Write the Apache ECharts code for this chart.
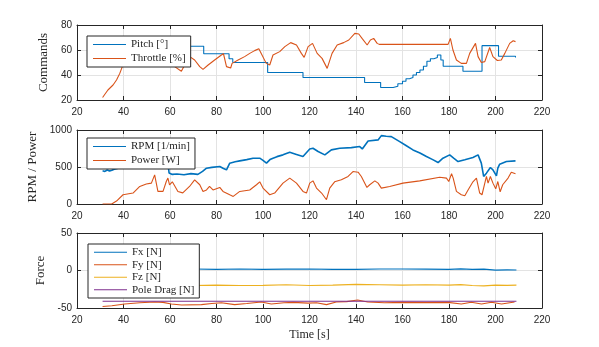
<!DOCTYPE html>
<html>
<head>
<meta charset="utf-8">
<script src="https://cdn.jsdelivr.net/npm/echarts@6/dist/echarts.min.js"></script>
<style>
  html, body { margin: 0; padding: 0; background: #fff; }
  #main { width: 599px; height: 347px; }
</style>
</head>
<body>
<div id="main"></div>
<script>
// x ticks (time, s)
const timeTicks = [20, 40, 60, 80, 100, 120, 140, 160, 180, 200, 220];

// panel 1 - commands
const pitchT = [31, 74.5, 85.4, 87, 102, 117.2, 143.7, 150.6, 156, 158, 160, 161.5, 163, 164.5, 166, 167.5, 169, 170.5, 172, 173.5, 175, 176.5, 177.5, 186, 194.2, 201.3, 208.6];
const pitchV = [63, 57, 53, 50, 42, 38, 34, 30, 31, 33, 35, 37, 38, 40, 42, 44, 47, 51, 53, 54, 56, 52, 47, 43, 63.5, 55, 54];
const throttleT = [31, 33.3, 35.5, 37, 38.4, 39.5, 41, 44.5, 47, 51, 55, 58, 60, 61, 62, 64.9, 66.3, 68.5, 70.6, 72.8, 74.2, 76.4, 79.2, 82.1, 83, 84.3, 86.1, 86.7, 89.3, 92.1, 94.3, 96.4, 98.2, 99.3, 101.4, 102.9, 104.3, 107.2, 109.4, 111.9, 114.4, 116.5, 117.7, 119.4, 121.3, 123.3, 125.4, 127.6, 129.7, 131.9, 134.7, 136.9, 139.5, 141.2, 142.6, 144.8, 146.2, 147.6, 149.1, 150, 179.6, 180.6, 181.7, 183.2, 185.3, 187.5, 188.9, 191.4, 192.5, 193.9, 195.4, 197.5, 198.9, 200.8, 202.5, 204, 206.1, 207.6, 208.6];
const throttleV = [22, 28, 32, 36, 41.3, 46.7, 48, 48, 52, 56, 58, 55, 52, 50, 46.7, 43, 48, 54.7, 52, 46.7, 44.5, 48, 52, 56, 57, 46.7, 45.6, 49.3, 52, 54.7, 57.3, 59.5, 61, 57, 49.3, 48, 56, 58.7, 62.7, 65.9, 64, 57.3, 54.1, 62.7, 65.3, 57.3, 53.3, 45.3, 57.3, 64, 65.9, 68, 73.3, 72.8, 69.3, 64, 68, 69.3, 65.3, 64.5, 64.5, 69.3, 60, 52, 49.3, 49.3, 57.3, 65.3, 54.7, 50, 50.7, 62, 54.7, 51.6, 52, 57.3, 65.3, 67.4, 66.7];

// panel 2 - rpm / power
const rpmT = [31, 32, 33, 34, 35, 36, 40, 45, 50, 55, 58.4, 59, 59.6, 61, 63, 66, 69, 72, 74, 75.7, 78, 81.4, 83, 84.3, 85.7, 88, 90, 93, 95.7, 98.6, 100, 101.5, 103, 104.3, 106, 108.6, 111.5, 114.4, 117.2, 120.1, 121.5, 123.7, 126.6, 129.4, 133, 138, 141.6, 142.7, 145.2, 149.5, 150.9, 153, 155.2, 158.8, 161.5, 164.5, 167.5, 170.3, 173, 175.3, 177.4, 180.3, 182, 183.9, 186.8, 190.3, 192.5, 193.9, 194.9, 196.1, 197.8, 198.9, 200.4, 201, 201.8, 204.7, 208.6];
const rpmV = [450, 440, 460, 445, 455, 470, 500, 510, 520, 530, 540, 580, 420, 400, 405, 395, 410, 400, 440, 484, 495, 507, 480, 462, 552, 570, 583, 600, 619, 619, 590, 552, 600, 619, 640, 664, 700, 670, 641, 744, 753, 709, 664, 731, 753, 762, 776, 744, 852, 866, 924, 915, 910, 843, 790, 731, 690, 641, 600, 560, 619, 664, 620, 574, 597, 628, 664, 552, 372, 417, 493, 462, 381, 484, 538, 574, 583];
const powerT = [31, 34.9, 37, 39.8, 44.1, 47, 49.8, 52, 53.4, 54, 54.8, 57, 58.4, 59.1, 59.8, 61, 63.4, 65.5, 68.4, 70.6, 71.3, 72.8, 74.2, 75.7, 77, 78.5, 81.4, 82.8, 85.7, 87.2, 90, 94.3, 97.2, 98.6, 100, 102.9, 105, 108.6, 111.5, 114.4, 117.2, 118.7, 120.1, 121.5, 123, 125.2, 127.3, 128.7, 130.8, 133.7, 136.6, 138.7, 140.9, 142.3, 144.7, 145.9, 148.1, 149.5, 150.9, 154.5, 160.2, 167.4, 176, 178.9, 179.9, 181.1, 181.8, 183.2, 185.3, 186.8, 188.2, 190.3, 191.8, 193.2, 194.2, 195.4, 196.1, 196.8, 197.8, 198.9, 200.1, 201, 202, 203.1, 205.4, 206.8, 208.6];
const powerV = [0, 0, 40, 125, 148, 237, 270, 282, 394, 410, 170, 170, 304, 350, 260, 300, 170, 150, 237, 327, 350, 260, 170, 190, 237, 190, 224, 170, 125, 103, 170, 190, 260, 300, 215, 125, 148, 282, 350, 282, 170, 148, 282, 313, 215, 148, 58, 215, 300, 327, 372, 439, 430, 372, 224, 260, 313, 282, 215, 237, 282, 313, 362, 350, 304, 410, 350, 170, 125, 112, 190, 300, 350, 148, 125, 282, 372, 282, 372, 282, 205, 304, 165, 260, 350, 430, 410];

// panel 3 - forces
const forceT = [31, 50, 70, 80, 90, 100, 110, 120, 130, 140, 150, 160, 170, 180, 185, 190, 195, 200, 205, 209];
const fxV = [2, 2, 2, 1.5, 2, 1.5, 1.8, 2, 1.5, 1.5, 2, 2, 1.8, 1.5, 2.2, 1.5, 1.8, 0.5, 0.8, 0.6];
const fzV = [-20, -19.5, -20, -19.5, -20, -19.8, -19, -20, -19.5, -18.5, -19, -19.5, -19, -19.5, -18.8, -20, -20.5, -19.5, -19.8, -19.5];
const fyT = [31, 35, 40.5, 47, 53.4, 57, 60.6, 65, 73.5, 78, 82.1, 87.8, 93, 99.3, 103.6, 109, 113, 119.4, 123, 127.3, 131.5, 136, 140.7, 145, 152.2, 160, 170, 179.6, 185.3, 189.6, 194, 198.3, 202.6, 208.2];
const fyV = [-48, -47, -44.7, -43, -42, -42.5, -44.7, -46, -45.5, -44, -43, -45.5, -44, -42, -44.7, -43, -42.5, -43.5, -43, -45.5, -42, -41.5, -39.3, -42, -43, -42.5, -42.8, -42.5, -44.7, -42.3, -44.7, -42.3, -44.7, -42];
const dragT = [31, 209];
const dragV = [-41, -41];

const C1 = '#0072BD', C2 = '#D95319', C3 = '#EDB120', C4 = '#7E2F8E';
const ink = '#262626';
const serif = 'Liberation Serif';
const sans = 'Liberation Sans';

function pair(T, V) {
    return T.map(function (t, i) { return [t, V[i]]; });
}

const grids = [
    { left: 77, top: 25, width: 465, height: 75 },
    { left: 77, top: 130, width: 465, height: 74 },
    { left: 77, top: 233, width: 465, height: 75 }
];
const yRanges = [
    { min: 20, max: 80, interval: 20, name: 'Commands', gap: 16 },
    { min: 0, max: 1000, interval: 500, name: 'RPM / Power', gap: 28 },
    { min: -50, max: 50, interval: 50, name: 'Force', gap: 22 }
];

var xAxes = [], yAxes = [];
grids.forEach(function (g, i) {
    xAxes.push({
        type: 'value', gridIndex: i, min: timeTicks[0], max: timeTicks[timeTicks.length - 1], interval: 20,
        axisLine: { show: true, onZero: false, lineStyle: { color: ink, width: 1 } },
        axisTick: { show: true, inside: true, length: 4, lineStyle: { color: ink } },
        axisLabel: { color: ink, fontFamily: sans, fontSize: 10, margin: 7 },
        splitLine: { show: true, lineStyle: { color: '#e3e3e3', width: 1 } },
        name: i === 2 ? 'Time [s]' : '',
        nameLocation: 'middle', nameGap: 21,
        nameTextStyle: { color: ink, fontFamily: serif, fontSize: 12 }
    });
    xAxes.push({
        type: 'value', gridIndex: i, position: 'top', min: 20, max: 220, interval: 20,
        axisLine: { show: true, onZero: false, lineStyle: { color: ink, width: 1 } },
        axisTick: { show: true, inside: true, length: 4, lineStyle: { color: ink } },
        axisLabel: { show: false }, splitLine: { show: false }
    });
    var r = yRanges[i];
    yAxes.push({
        type: 'value', gridIndex: i, min: r.min, max: r.max, interval: r.interval,
        axisLine: { show: true, onZero: false, lineStyle: { color: ink, width: 1 } },
        axisTick: { show: true, inside: true, length: 4, lineStyle: { color: ink } },
        axisLabel: { color: ink, fontFamily: sans, fontSize: 10, margin: 5, formatter: function (v) { return String(v); } },
        splitLine: { show: true, lineStyle: { color: '#e3e3e3', width: 1 } },
        name: r.name, nameLocation: 'middle', nameGap: r.gap, nameRotate: 90,
        nameTextStyle: { color: ink, fontFamily: serif, fontSize: 13 }
    });
    yAxes.push({
        type: 'value', gridIndex: i, position: 'right', min: r.min, max: r.max, interval: r.interval,
        axisLine: { show: true, onZero: false, lineStyle: { color: ink, width: 1 } },
        axisTick: { show: true, inside: true, length: 4, lineStyle: { color: ink } },
        axisLabel: { show: false }, splitLine: { show: false }
    });
});

function line(name, data, color, panel, extra) {
    var s = {
        name: name, type: 'line', data: data,
        xAxisIndex: panel * 2, yAxisIndex: panel * 2,
        showSymbol: false, symbol: 'none', animation: false,
        lineStyle: { color: color, width: 1.1 }, itemStyle: { color: color },
        z: 3
    };
    return Object.assign(s, extra || {});
}

function legendBox(names, left, top, width, lineH, gap) {
    return {
        orient: 'vertical', left: left, top: top, width: width,
        data: names, icon: 'rect', itemWidth: 33, itemHeight: 1.2, itemGap: gap,
        padding: [2, 5, 2, 6],
        backgroundColor: '#fff', borderColor: ink, borderWidth: 1, borderRadius: 0,
        textStyle: { fontFamily: serif, fontSize: 11, color: ink, lineHeight: lineH },
        selectedMode: false, z: 10
    };
}

var chart = echarts.init(document.getElementById('main'), null, { renderer: 'canvas' });
chart.setOption({
    animation: false,
    backgroundColor: '#fff',
    grid: grids.map(function (g) { return Object.assign({ show: false }, g); }),
    xAxis: xAxes,
    yAxis: yAxes,
    legend: [
        legendBox(['Pitch [°]', 'Throttle [%]'], 87, 36, 100, 13, 1),
        legendBox(['RPM [1/min]', 'Power [W]'], 87, 138, 106, 13, 1),
        legendBox(['Fx [N]', 'Fy [N]', 'Fz [N]', 'Pole Drag [N]'], 88, 244, 106, 12.5, 0)
    ],
    series: [
        line('Pitch [°]', pair(pitchT, pitchV), C1, 0, { step: 'end' }),
        line('Throttle [%]', pair(throttleT, throttleV), C2, 0),
        line('RPM [1/min]', pair(rpmT, rpmV), C1, 1, { lineStyle: { color: C1, width: 1.6 } }),
        line('Power [W]', pair(powerT, powerV), C2, 1),
        line('Fx [N]', pair(forceT, fxV), C1, 2),
        line('Fy [N]', pair(fyT, fyV), C2, 2),
        line('Fz [N]', pair(forceT, fzV), C3, 2),
        line('Pole Drag [N]', pair(dragT, dragV), C4, 2)
    ]
});
</script>
</body>
</html>
